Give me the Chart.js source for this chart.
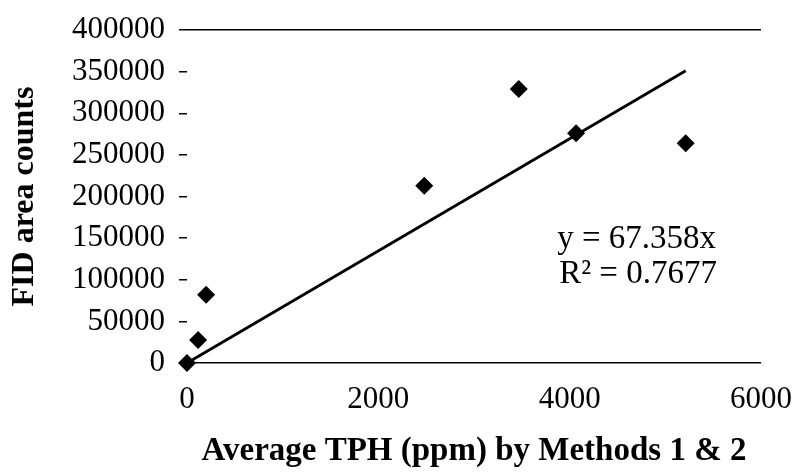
<!DOCTYPE html>
<html>
<head>
<meta charset="utf-8">
<script src="https://cdn.jsdelivr.net/npm/chart.js@4"></script>
<style>
  html, body { margin: 0; padding: 0; background: #fff; }
  #wrap { width: 798px; height: 473px; }
</style>
</head>
<body>
<div id="wrap"><canvas id="c" width="798" height="473"></canvas></div>
<script>
const tphValues = [0, 116, 200, 2480, 3468, 4067, 5213];
const fidValues = [0, 27700, 82000, 213000, 329000, 276000, 264000];
const trendX = [0, 5213];
const trendY = [0, 351100];
const equationLines = ['y = 67.358x', 'R² = 0.7677'];
const xTitle = 'Average TPH (ppm) by Methods 1 & 2';
const yTitle = 'FID area counts';

const serif = '"Liberation Serif", "DejaVu Serif", serif';

const annotationPlugin = {
  id: 'eqText',
  afterDatasetsDraw(chart) {
    const ctx = chart.ctx;
    const xs = chart.scales.x, ys = chart.scales.y;
    ctx.save();
    ctx.fillStyle = '#000';
    ctx.font = '33px ' + serif;
    ctx.textAlign = 'left';
    ctx.textBaseline = 'middle';
    ctx.fillText(equationLines[0], xs.getPixelForValue(3870), ys.getPixelForValue(149000));
    ctx.fillText(equationLines[1], xs.getPixelForValue(3890), ys.getPixelForValue(106000));
    ctx.restore();
  }
};

new Chart(document.getElementById('c'), {
  type: 'scatter',
  data: {
    datasets: [
      {
        data: tphValues.map((x, i) => ({ x, y: fidValues[i] })),
        pointStyle: 'rectRot',
        pointRadius: 9,
        pointHoverRadius: 9,
        backgroundColor: '#000',
        borderColor: '#000',
        borderWidth: 0,
        clip: false,
        order: 1
      },
      {
        type: 'line',
        data: trendX.map((x, i) => ({ x, y: trendY[i] })),
        borderColor: '#000',
        borderWidth: 2.8,
        pointRadius: 0,
        fill: false,
        clip: false,
        order: 2
      }
    ]
  },
  options: {
    responsive: false,
    animation: false,
    devicePixelRatio: 1,
    layout: { padding: { left: 6, right: 37, top: 30, bottom: 2 } },
    plugins: { legend: { display: false }, tooltip: { enabled: false } },
    scales: {
      x: {
        type: 'linear',
        min: 0, max: 6000,
        ticks: { stepSize: 2000, color: '#000', font: { family: serif, size: 31 }, padding: 10, maxRotation: 0,
                 callback: (v) => String(v) },
        grid: { display: false },
        border: { display: false },
        title: { display: true, text: xTitle, color: '#000', font: { family: serif, size: 33, weight: 'bold' }, padding: { top: 14, bottom: 0 } },
        afterFit(scale) { scale.height = 108; scale.paddingRight = 0; scale.paddingLeft = 0; }
      },
      y: {
        min: 0, max: 400000,
        ticks: { stepSize: 50000, color: '#000', font: { family: serif, size: 31 }, padding: 14,
                 callback: (v) => String(v) },
        grid: {
          color: (c) => (c.tick && (c.tick.value === 0 || c.tick.value === 400000)) ? '#000' : 'rgba(0,0,0,0)',
          tickColor: '#000',
          tickLength: 8,
          lineWidth: 1.5
        },
        border: { display: false },
        title: { display: true, text: yTitle, color: '#000', font: { family: serif, size: 32, weight: 'bold' }, padding: { top: 0, bottom: 0 } },
        afterFit(scale) { scale.width = 181; scale.paddingTop = 0; scale.paddingBottom = 0; }
      }
    }
  },
  plugins: [annotationPlugin]
});
</script>
</body>
</html>
